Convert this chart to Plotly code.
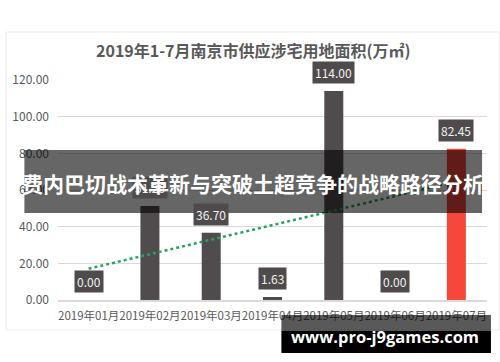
import numpy as np
import plotly.graph_objects as go

months = ["2019年01月", "2019年02月", "2019年03月", "2019年04月", "2019年05月", "2019年06月", "2019年07月"]
areas = [0.00, 51.26, 36.70, 1.63, 114.00, 0.00, 82.45]
bar_colors = ["#504c4d", "#504c4d", "#504c4d", "#504c4d", "#504c4d", "#504c4d", "#f5473a"]
y_ticks = [0, 20, 40, 60, 80, 100, 120]
title_text = "2019年1-7月南京市供应涉宅用地面积(万㎡)"
banner_text = "费内巴切战术革新与突破土超竞争的战略路径分析"
watermark_text = "www.pro-j9games.com"

# linear trendline (like Excel's) fitted on month index
idx = np.arange(1, len(areas) + 1)
slope, intercept = np.polyfit(idx, areas, 1)
trend_x = [months[0], months[-1]]
trend_y = [slope * 1 + intercept, slope * len(areas) + intercept]

W, H = 500, 362
L, R, T, B = 53, 13, 80, 62
pw, ph = W - L - R, H - T - B

def px(x):
    return (x - L) / pw

def py(y):
    return (H - B - y) / ph

fig = go.Figure()
fig.add_trace(go.Bar(x=months, y=areas, marker=dict(color=bar_colors, line=dict(width=0)),
                     width=0.31, hoverinfo="skip"))
fig.add_trace(go.Scatter(x=trend_x, y=trend_y, mode="lines",
                         line=dict(color="#27a35a", width=2.5, dash="dot"), hoverinfo="skip"))

ann = []
for m, v in zip(months, areas):
    ann.append(dict(x=m, y=v, xref="x", yref="y", text=f"{v:.2f}", showarrow=False,
                    yanchor="bottom", yshift=7, bgcolor="#4f4b4c", borderpad=2,
                    font=dict(color="#f2f2f2", size=12, family="Noto Sans CJK SC")))
ann.append(dict(x=px(250.5), y=py(50), xref="paper", yref="paper", text=f"<b>{title_text}</b>",
                showarrow=False, xanchor="center", yanchor="middle",
                font=dict(size=16, color="#595959", family="Noto Sans CJK SC")))
ann.append(dict(x=px(250.5), y=py(183), xref="paper", yref="paper", text=f"<b>{banner_text}</b>",
                showarrow=False, xanchor="center", yanchor="middle",
                font=dict(size=21, color="#ffffff", family="Noto Sans CJK SC")))
ann.append(dict(x=px(384), y=py(336), xref="paper", yref="paper", text=f"<b>{watermark_text}</b>",
                showarrow=False, xanchor="center", yanchor="middle",
                font=dict(size=16.5, color="#ffffff", family="Open Sans")))

shapes = [
    dict(type="rect", xref="paper", yref="paper", x0=px(0.5), x1=px(499.5), y0=py(330), y1=py(32),
         line=dict(color="#ececec", width=1), fillcolor="rgba(0,0,0,0)", layer="below"),
    dict(type="rect", xref="paper", yref="paper", x0=px(19), x1=px(482), y0=py(213), y1=py(150),
         line=dict(width=0), fillcolor="rgba(0,0,0,0.6)", layer="above"),
    dict(type="rect", xref="paper", yref="paper", x0=px(279), x1=px(491), y0=py(331), y1=py(315),
         line=dict(width=0), fillcolor="rgba(0,0,0,0.65)", layer="above"),
    dict(type="rect", xref="paper", yref="paper", x0=px(279), x1=px(491), y0=py(353), y1=py(331),
         line=dict(width=0), fillcolor="#000000", layer="above"),
]

fig.update_layout(
    width=W, height=H, margin=dict(l=L, r=R, t=T, b=B),
    paper_bgcolor="#ffffff", plot_bgcolor="#ffffff",
    showlegend=False, annotations=ann, shapes=shapes,
    font=dict(family="Noto Sans CJK SC", color="#595959"),
)
fig.update_xaxes(showgrid=False, showline=True, linecolor="#d9d9d9", linewidth=1.5,
                 tickfont=dict(size=11.5, color="#595959"), ticks="", tickangle=0,
                 ticklabelstandoff=4, fixedrange=True)
fig.update_yaxes(range=[0, 120], tickvals=y_ticks, ticktext=[f"{t:.2f}" for t in y_ticks],
                 showgrid=True, gridcolor="#d9d9d9", gridwidth=1, zeroline=False,
                 tickfont=dict(size=12, color="#595959"), ticks="", ticklabelstandoff=8,
                 fixedrange=True)

fig.write_html("out.html")
